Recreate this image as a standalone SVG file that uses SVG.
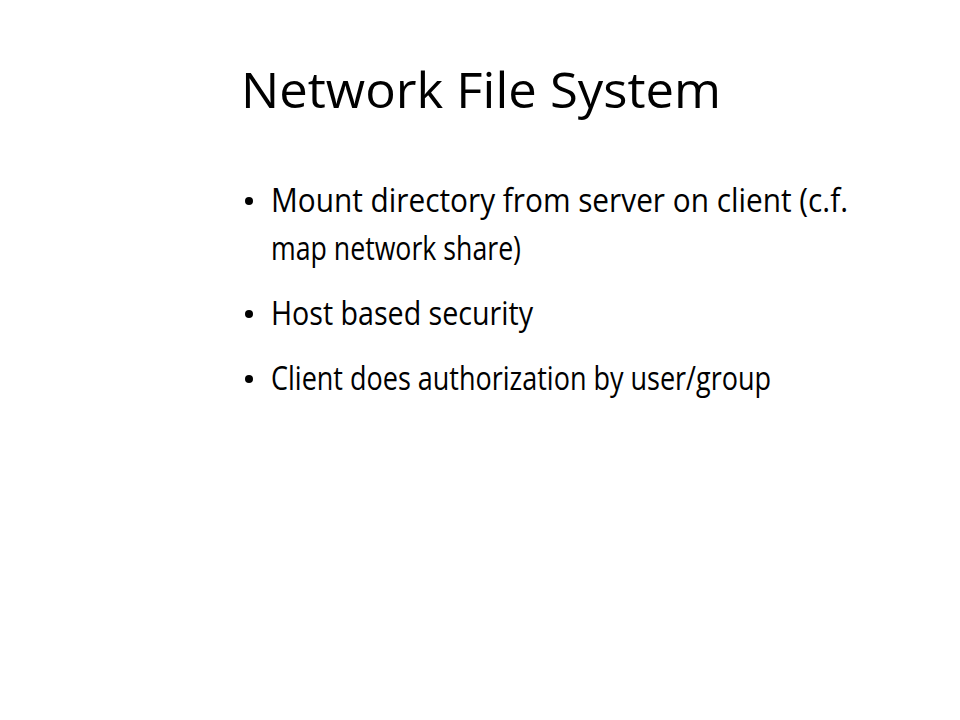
<svg xmlns="http://www.w3.org/2000/svg" width="960" height="720" viewBox="0 0 960 720">
<style>
.t{font-family:"Open Sans","Liberation Sans",sans-serif;fill:#000}
.title{font-size:50px}
.b{font-size:33px}
</style>
<rect width="960" height="720" fill="#fff"/>
<g id="title"><text class="t title" x="481" y="108" text-anchor="middle" textLength="480" lengthAdjust="spacingAndGlyphs">Network File System</text></g>
<g id="bullets">
<circle cx="249" cy="201" r="4"/>
<text class="t b" x="271" y="212" textLength="577" lengthAdjust="spacingAndGlyphs">Mount directory from server on client (c.f.</text>
<text class="t b" x="271" y="260" textLength="250" lengthAdjust="spacingAndGlyphs">map network share)</text>
<circle cx="249" cy="314" r="4"/>
<text class="t b" x="271" y="325" textLength="262" lengthAdjust="spacingAndGlyphs">Host based security</text>
<circle cx="249" cy="379" r="4"/>
<text class="t b" x="271" y="390" textLength="500" lengthAdjust="spacingAndGlyphs">Client does authorization by user/group</text>
</g>
</svg>
